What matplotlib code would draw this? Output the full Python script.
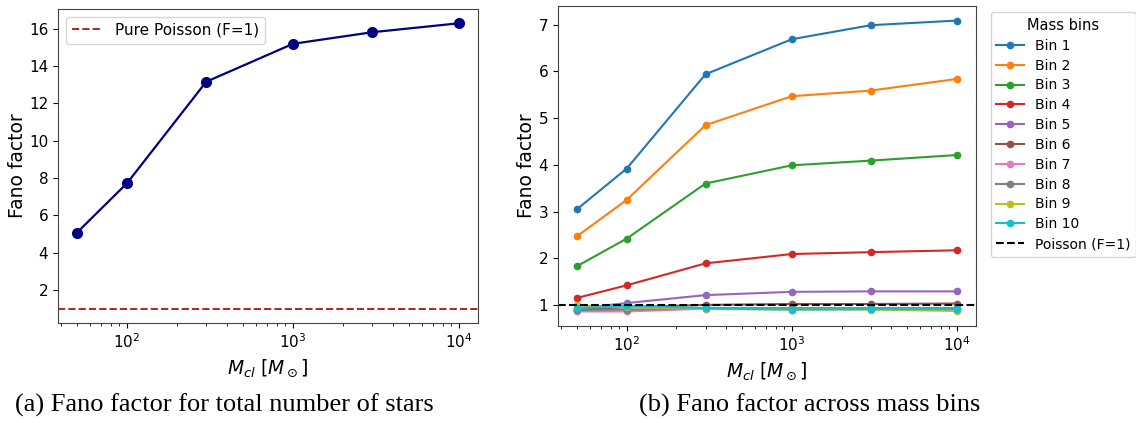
import matplotlib
matplotlib.use("Agg")
import matplotlib.pyplot as plt

# Cluster masses (solar masses)
cluster_mass = [50, 100, 300, 1000, 3000, 10000]

# Fano factor of the total number of stars
fano_total = [5.08, 7.72, 13.15, 15.18, 15.80, 16.28]

# Fano factor per mass bin
bin_labels = [f"Bin {i}" for i in range(1, 11)]
fano_bins = [
    [3.05, 3.92, 5.94, 6.69, 6.99, 7.09],
    [2.47, 3.25, 4.85, 5.47, 5.59, 5.84],
    [1.83, 2.42, 3.60, 3.99, 4.09, 4.21],
    [1.15, 1.42, 1.89, 2.09, 2.13, 2.17],
    [0.92, 1.04, 1.21, 1.28, 1.29, 1.29],
    [0.90, 0.95, 1.00, 1.02, 1.02, 1.03],
    [0.86, 0.86, 0.92, 0.92, 0.92, 0.92],
    [0.89, 0.90, 0.93, 0.93, 0.93, 0.93],
    [0.99, 0.95, 0.91, 0.90, 0.90, 0.87],
    [0.93, 0.98, 0.93, 0.90, 0.91, 0.91],
]

captions = ["(a) Fano factor for total number of stars",
            "(b) Fano factor across mass bins"]

fig = plt.figure(figsize=(11.36, 4.23), dpi=100)
W, H = 1136, 423

def px_axes(x0, y0, x1, y1):
    return fig.add_axes([x0 / W, 1 - y1 / H, (x1 - x0) / W, (y1 - y0) / H])

tick_fs = 11
label_fs = 13.5

# (a) total number of stars
ax1 = px_axes(58, 9, 478, 323)
ax1.plot(cluster_mass, fano_total, "-o", color="navy", lw=1.6, ms=7)
ax1.axhline(1, color="firebrick", ls="--", lw=1.4, label="Pure Poisson (F=1)")
ax1.set_xscale("log")
ax1.set_xlabel(r"$M_{cl}\ [M_\odot]$", fontsize=label_fs)
ax1.set_ylabel("Fano factor", fontsize=label_fs, labelpad=1.5)
ax1.tick_params(labelsize=tick_fs)
ax1.legend(loc="upper left", fontsize=tick_fs)

# (b) per mass bin
ax2 = px_axes(558, 6, 976, 326)
colors = plt.rcParams["axes.prop_cycle"].by_key()["color"]
for i, (lab, vals) in enumerate(zip(bin_labels, fano_bins)):
    ax2.plot(cluster_mass, vals, "-o", color=colors[i % len(colors)],
             lw=1.5, ms=4.5, label=lab)
ax2.axhline(1, color="black", ls="--", lw=1.5, label="Poisson (F=1)")
ax2.set_xscale("log")
ax2.set_xlabel(r"$M_{cl}\ [M_\odot]$", fontsize=label_fs)
ax2.set_ylabel("Fano factor", fontsize=label_fs, labelpad=1.5)
ax2.tick_params(labelsize=tick_fs)
ax2.legend(title="Mass bins", loc="upper left", bbox_to_anchor=(1.035, 0.98),
           fontsize=10, title_fontsize=10.5, borderaxespad=0,
           labelspacing=0.42)

for ax in (ax1, ax2):
    for s in ax.spines.values():
        s.set_color("#444444")

fig.text(224 / W, 1 - 405 / H, captions[0], ha="center", va="center",
         fontsize=19, family="Liberation Serif")
fig.text(810 / W, 1 - 405 / H, captions[1], ha="center", va="center",
         fontsize=19, family="Liberation Serif")

fig.savefig("out.png", dpi=100)
